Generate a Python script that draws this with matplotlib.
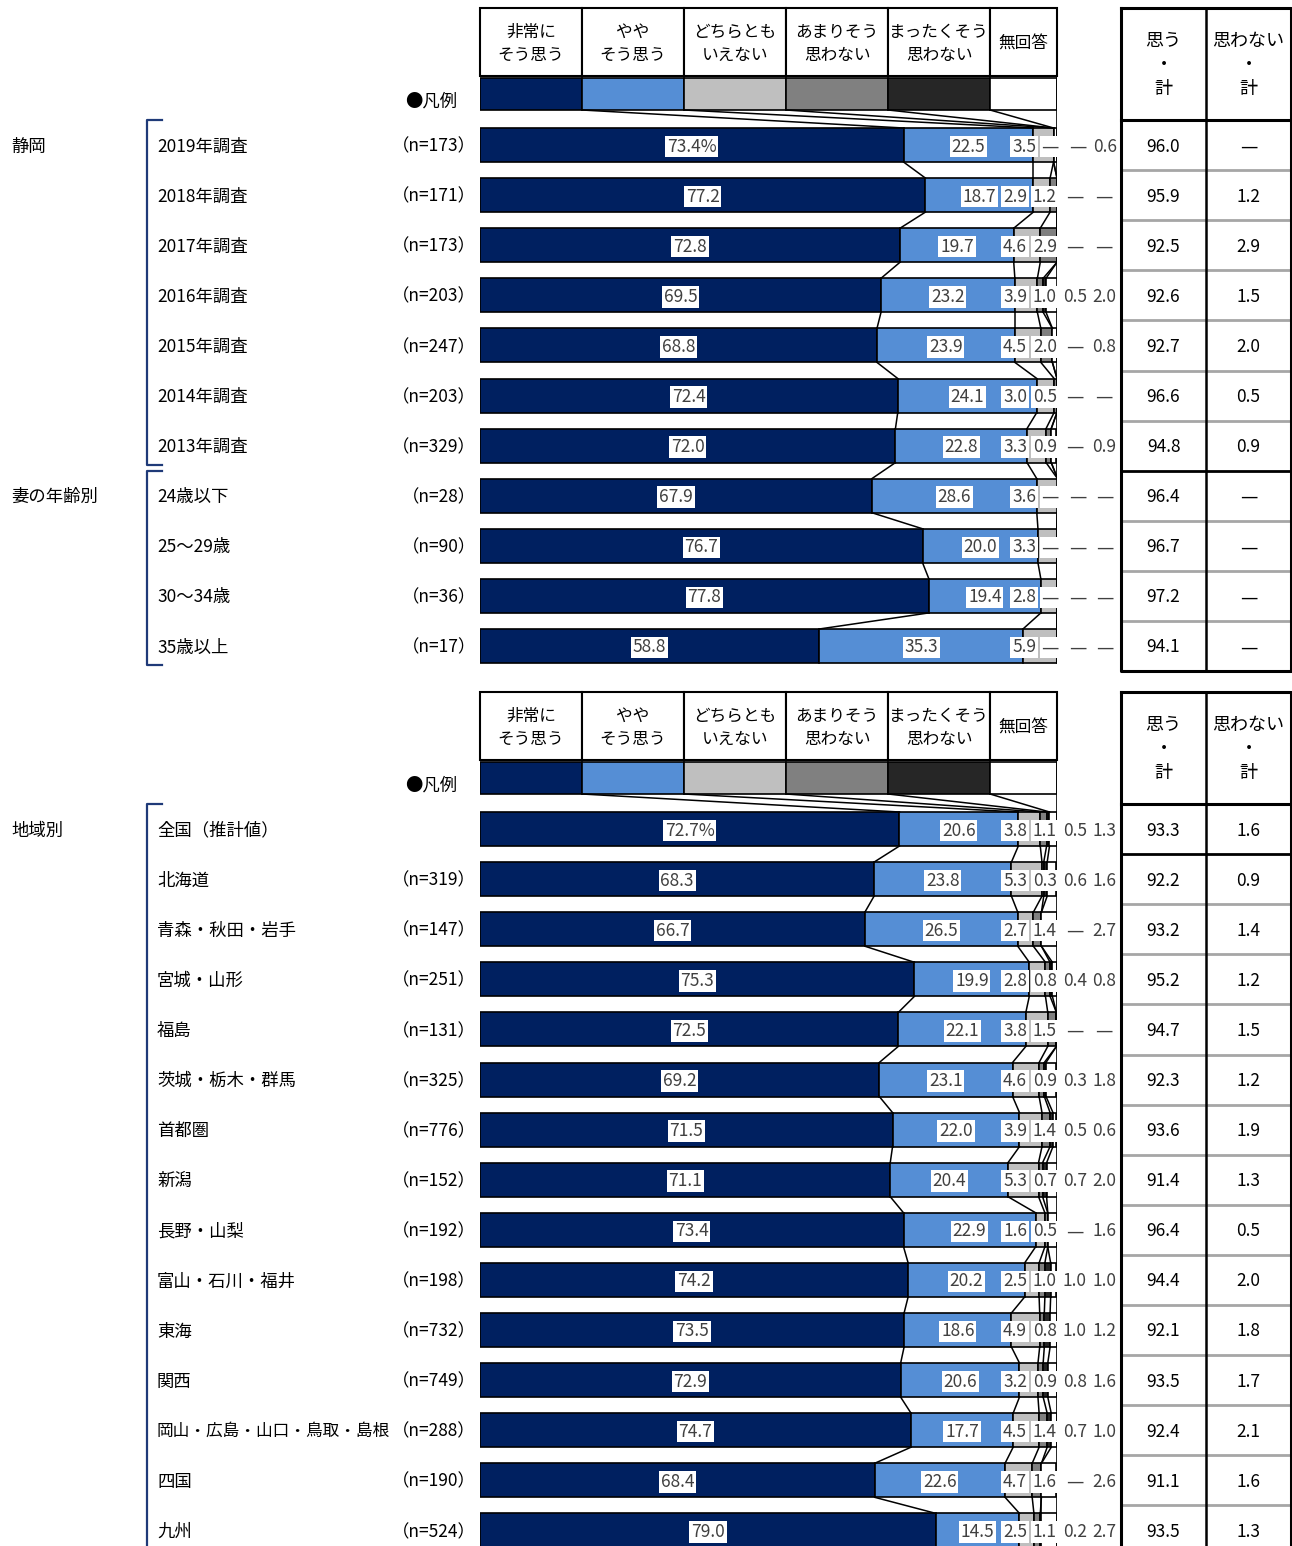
import matplotlib.pyplot as plt
from matplotlib.patches import Rectangle

plt.rcParams['font.family'] = ['Noto Sans CJK JP', 'DejaVu Sans']

# ---- data ----
categories = ['非常に\nそう思う', 'やや\nそう思う', 'どちらとも\nいえない',
              'あまりそう\n思わない', 'まったくそう\n思わない', '無回答']
colors = ['#002060', '#558ed5', '#bfbfbf', '#808080', '#262626', '#ffffff']

top_labels = ['2019年調査', '2018年調査', '2017年調査', '2016年調査', '2015年調査',
              '2014年調査', '2013年調査', '24歳以下', '25～29歳', '30～34歳', '35歳以上']
top_n = ['173', '171', '173', '203', '247', '203', '329', '28', '90', '36', '17']
top_values = [
    [73.4, 22.5, 3.5, 0, 0, 0.6],
    [77.2, 18.7, 2.9, 1.2, 0, 0],
    [72.8, 19.7, 4.6, 2.9, 0, 0],
    [69.5, 23.2, 3.9, 1.0, 0.5, 2.0],
    [68.8, 23.9, 4.5, 2.0, 0, 0.8],
    [72.4, 24.1, 3.0, 0.5, 0, 0],
    [72.0, 22.8, 3.3, 0.9, 0, 0.9],
    [67.9, 28.6, 3.6, 0, 0, 0],
    [76.7, 20.0, 3.3, 0, 0, 0],
    [77.8, 19.4, 2.8, 0, 0, 0],
    [58.8, 35.3, 5.9, 0, 0, 0],
]
top_think = [96.0, 95.9, 92.5, 92.6, 92.7, 96.6, 94.8, 96.4, 96.7, 97.2, 94.1]
top_not = [0, 1.2, 2.9, 1.5, 2.0, 0.5, 0.9, 0, 0, 0, 0]
top_groups = [('静岡', 0, 6), ('妻の年齢別', 7, 10)]

bottom_labels = ['全国（推計値）', '北海道', '青森・秋田・岩手', '宮城・山形', '福島',
                 '茨城・栃木・群馬', '首都圏', '新潟', '長野・山梨', '富山・石川・福井',
                 '東海', '関西', '岡山・広島・山口・鳥取・島根', '四国', '九州']
bottom_n = ['', '319', '147', '251', '131', '325', '776', '152', '192', '198',
            '732', '749', '288', '190', '524']
bottom_values = [
    [72.7, 20.6, 3.8, 1.1, 0.5, 1.3],
    [68.3, 23.8, 5.3, 0.3, 0.6, 1.6],
    [66.7, 26.5, 2.7, 1.4, 0, 2.7],
    [75.3, 19.9, 2.8, 0.8, 0.4, 0.8],
    [72.5, 22.1, 3.8, 1.5, 0, 0],
    [69.2, 23.1, 4.6, 0.9, 0.3, 1.8],
    [71.5, 22.0, 3.9, 1.4, 0.5, 0.6],
    [71.1, 20.4, 5.3, 0.7, 0.7, 2.0],
    [73.4, 22.9, 1.6, 0.5, 0, 1.6],
    [74.2, 20.2, 2.5, 1.0, 1.0, 1.0],
    [73.5, 18.6, 4.9, 0.8, 1.0, 1.2],
    [72.9, 20.6, 3.2, 0.9, 0.8, 1.6],
    [74.7, 17.7, 4.5, 1.4, 0.7, 1.0],
    [68.4, 22.6, 4.7, 1.6, 0, 2.6],
    [79.0, 14.5, 2.5, 1.1, 0.2, 2.7],
]
bottom_think = [93.3, 92.2, 93.2, 95.2, 94.7, 92.3, 93.6, 91.4, 96.4, 94.4,
                92.1, 93.5, 92.4, 91.1, 93.5]
bottom_not = [1.6, 0.9, 1.4, 1.2, 1.5, 1.2, 1.9, 1.3, 0.5, 2.0,
              1.8, 1.7, 2.1, 1.6, 1.3]
bottom_groups = [('地域別', 0, 14)]

# ---- layout (pixels) ----
W, H = 1292, 1546
ROW = 50.1
BAR_H = 34
BAR_X0, BAR_X1 = 480, 1057
PX = (BAR_X1 - BAR_X0) / 100.0
legend_w = [17.68, 17.68, 17.68, 17.68, 17.68, 11.6]
TXT = '#404040'
NAVY = '#1f3a78'
FS = 12.5   # row / table text
DY = 1.5    # small downward nudge for CJK text centring
DASH = '—'

fig = plt.figure(figsize=(W / 100, H / 100), dpi=100)
bg = fig.add_axes([0, 0, 1, 1])
bg.set_xlim(0, W)
bg.set_ylim(H, 0)
bg.axis('off')

ax = fig.add_axes([BAR_X0 / W, 0, (BAR_X1 - BAR_X0) / W, 1])
ax.set_xlim(0, 100)
ax.set_ylim(H, 0)
ax.axis('off')
ax.patch.set_alpha(0)


def pct(px):
    return (px - BAR_X0) / PX


def fmt(v):
    return DASH if v == 0 else f'{v:.1f}'


def fam(s):
    # the CJK font draws the em dash narrow; use DejaVu for the full-width look
    return ['DejaVu Sans'] if s == DASH else ['Noto Sans CJK JP', 'DejaVu Sans']


def draw_panel(off, labels, ns, values, think, notthink, groups, sep_after):
    centers = [145 + off + ROW * i for i in range(len(labels))]

    # header cells
    left = 0
    for w, cat in zip(legend_w, categories):
        ax.add_patch(Rectangle((left, 8 + off), w, 68, facecolor='white',
                               edgecolor='black', lw=1.5, clip_on=False))
        ax.text(left + w / 2, 44 + off, cat, ha='center', va='center',
                fontsize=12, linespacing=1.45)
        left += w
    # legend row
    lefts = [sum(legend_w[:k]) for k in range(6)]
    ax.barh([94 + off] * 6, legend_w, left=lefts, height=32, color=colors,
            edgecolor='black', lw=1.2)
    bg.text(457, 100 + off + DY, '●凡例', ha='right', va='center', fontsize=FS)

    # bars
    cums = []
    for i, (vals, yc) in enumerate(zip(values, centers)):
        lefts = [sum(vals[:k]) for k in range(6)]
        cums.append([sum(vals[:k + 1]) for k in range(5)])
        ax.barh([yc] * 6, vals, left=lefts, height=BAR_H, color=colors,
                edgecolor='black', lw=1.2)
        # labels
        s1 = f'{vals[0]:.1f}' + ('%' if i == 0 else '')
        box = dict(facecolor='white', edgecolor='none', pad=1.2)
        ax.text(vals[0] / 2, yc + DY, s1, ha='center', va='center', fontsize=12.5,
                color=TXT, bbox=box)
        ax.text(vals[0] + vals[1] / 2, yc + DY, f'{vals[1]:.1f}', ha='center',
                va='center', fontsize=12.5, color=TXT, bbox=box)
        cols = [1015, 1045, 1075, 1104] if vals[3] != 0 else [1024, 1050, 1078, 1105]
        for k in range(4):
            s = fmt(vals[k + 2])
            ax.text(pct(cols[k]), yc + DY, s, ha='center', va='center',
                    fontsize=12.5, color=TXT, clip_on=False, family=fam(s),
                    bbox=box if k < 2 else None)

    # connectors
    leg_cum = [sum(legend_w[:k + 1]) for k in range(5)]
    for k in range(5):
        ax.plot([leg_cum[k], cums[0][k]], [110 + off, centers[0] - BAR_H / 2],
                color='black', lw=1.1)
    for i in range(len(centers) - 1):
        for k in range(5):
            ax.plot([cums[i][k], cums[i + 1][k]],
                    [centers[i] + BAR_H / 2, centers[i + 1] - BAR_H / 2],
                    color='black', lw=1.1)
    ax.plot([100, 100], [78 + off, centers[-1] + BAR_H / 2], color='black', lw=1.2)

    # left labels
    for lab, n, yc in zip(labels, ns, centers):
        fs = FS if len(lab) < 12 else 12
        bg.text(157, yc + DY, lab, ha='left', va='center', fontsize=fs)
        if n:
            bg.text(476, yc + DY, f'（n={n}）', ha='right', va='center', fontsize=FS)
    for name, a, b in groups:
        bg.text(11, centers[a] + DY, name, ha='left', va='center', fontsize=FS)
        top = centers[a] - 25
        bot = min(centers[b] + 19, H + 5)
        bg.plot([162, 147, 147, 162], [top, top, bot, bot], color=NAVY, lw=1.6)

    # right table
    tx0, tx1, tx2 = 1121, 1206, 1291
    htop, hbot = 8 + off, 120 + off
    tbot = hbot + ROW * len(labels)
    for y, t in zip([41, 65, 89], ['思う', '・', '計']):
        bg.text((tx0 + tx1) / 2, y + off, t, ha='center', va='center', fontsize=13)
    for y, t in zip([41, 65, 89], ['思わない', '・', '計']):
        bg.text((tx1 + tx2) / 2, y + off, t, ha='center', va='center', fontsize=13)
    for i, yc in enumerate(centers):
        bg.text((tx0 + tx1) / 2, yc + DY, f'{think[i]:.1f}', ha='center',
                va='center', fontsize=FS)
        s = fmt(notthink[i])
        bg.text((tx1 + tx2) / 2, yc + DY, s, ha='center', va='center',
                fontsize=FS, family=fam(s))
        if i > 0:
            ysep = hbot + ROW * i
            black = (i - 1) in sep_after
            bg.plot([tx0, tx2], [ysep, ysep], color='black' if black else '#a6a6a6',
                    lw=2.0, zorder=1)
    bg.plot([tx0, tx2, tx2, tx0, tx0], [htop, htop, tbot, tbot, htop],
            color='black', lw=2.2, zorder=3)
    bg.plot([tx1, tx1], [htop, tbot], color='black', lw=1.8, zorder=3)
    bg.plot([tx0, tx2], [hbot, hbot], color='black', lw=2.2, zorder=3)


draw_panel(0, top_labels, top_n, top_values, top_think, top_not, top_groups, [6])
draw_panel(684, bottom_labels, bottom_n, bottom_values, bottom_think, bottom_not,
           bottom_groups, [0])

fig.savefig('out.png', dpi=100, facecolor='white')
